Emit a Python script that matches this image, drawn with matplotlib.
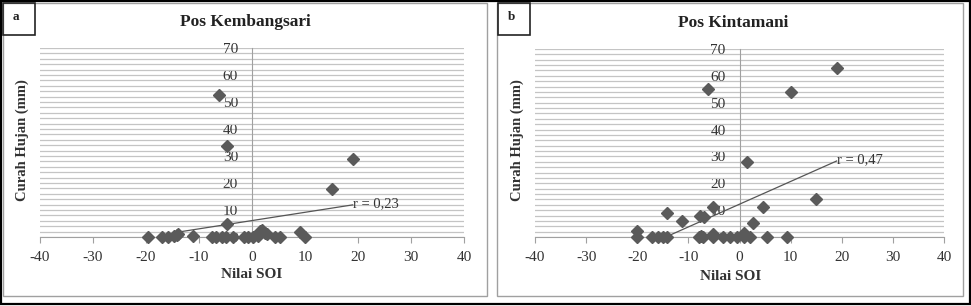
import numpy as np
import matplotlib
matplotlib.use("agg")
import matplotlib.pyplot as plt
from matplotlib.patches import Rectangle
from matplotlib.ticker import MultipleLocator

plt.rcParams["font.family"] = ["Liberation Serif", "DejaVu Serif"]
plt.rcParams["axes.unicode_minus"] = False

W, H = 971, 306

# Pos Kembangsari
soi_a = [-19.6, -17, -15.8, -14.7, -14.2, -13.9, -11.1, -7.6, -6.7, -6.2, -5.7, -4.9,
         -4.8, -4.8, -3.5, -1.6, -0.7, 0.2, 1.2, 1.5, 1.8, 2.5, 2.8, 4.3, 5.3, 9.1, 10, 15, 19]
rain_a = [0, 0, 0, 0.3, 0.8, 1, 0.5, 0, 0, 52.7, 0, 0,
          33.8, 4.7, 0, 0, 0, 0, 0.5, 2.2, 2.6, 1.4, 1, 0, 0, 2, 0, 17.9, 28.8]
trend_x_a = [-14, 19]
trend_y_a = [1.8, 11.9]

# Pos Kintamani
soi_b = [-20, -20, -17.2, -15.9, -15, -14.2, -14.2, -11.3, -7.9, -7.7, -7.5, -7.2, -6.9,
         -6.2, -5.1, -5.1, -5.1, -3.2, -1.9, -0.5, 0.8, 0.8, 1.5, 2.1, 2.6, 4.6, 5.4,
         9.3, 10, 15, 19]
rain_b = [2.4, 0, 0, 0, 0, 0, 9, 6.1, 0, 7.8, 0.5, 0, 7.6,
          55, 11, 1, 0, 0, 0, 0, 0, 1.4, 28, 0, 5.1, 11, 0,
          0, 54, 14, 63]
trend_x_b = [-13.6, 19]
trend_y_b = [0.7, 28.3]

x_ticks = [-40, -30, -20, -10, 0, 10, 20, 30, 40]
y_ticks = [0, 10, 20, 30, 40, 50, 60, 70]

panels = [
    dict(letter="a", title="Pos Kembangsari", x=soi_a, y=rain_a, tx=trend_x_a, ty=trend_y_a,
         r="r = 0,23", ax_px=(40, 464, 48, 237), frame=(3, 3, 487, 296), box=(3, 3, 35, 35),
         title_xy=(245, 22), ylab_x=22, xlab_xy=(252, 275)),
    dict(letter="b", title="Pos Kintamani", x=soi_b, y=rain_b, tx=trend_x_b, ty=trend_y_b,
         r="r = 0,47", ax_px=(535, 944, 49, 237), frame=(497, 3, 963, 296), box=(498, 3, 530, 35),
         title_xy=(733, 23), ylab_x=517, xlab_xy=(731, 277)),
]

fig = plt.figure(figsize=(W / 100, H / 100), dpi=100)


def px_rect(x0, y0, x1, y1, **kw):
    return Rectangle((x0 / W, 1 - y1 / H), (x1 - x0) / W, (y1 - y0) / H,
                     transform=fig.transFigure, fill=False, **kw)


# outer black frame
fig.patches.append(px_rect(0.5, 0.5, W - 1.5, H - 2.5, edgecolor="black", linewidth=1.6))

for p in panels:
    fig.patches.append(px_rect(*p["frame"], edgecolor="#a0a0a0", linewidth=1.0))
    fig.patches.append(px_rect(*p["box"], edgecolor="#222222", linewidth=1.2))
    bx0, by0, bx1, by1 = p["box"]
    fig.text((bx0 + 13) / W, 1 - (by0 + 14) / H, p["letter"], fontsize=9.5, fontweight="bold",
             ha="center", va="center", color="#222222")

    l, r, t, b = p["ax_px"]
    ax = fig.add_axes([l / W, 1 - b / H, (r - l) / W, (b - t) / H])
    ax.set_xlim(-40, 40)
    ax.set_ylim(0, 70)
    ax.set_xticks(x_ticks)
    ax.set_yticks(y_ticks)
    ax.set_yticklabels([str(v) for v in y_ticks])
    ax.yaxis.set_minor_locator(MultipleLocator(2))
    ax.grid(True, which="both", axis="y", color="#c4c4c4", linewidth=0.9)
    ax.set_axisbelow(True)

    for s in ["top", "right"]:
        ax.spines[s].set_visible(False)
    ax.spines["left"].set_position(("data", 0))
    ax.spines["left"].set_color("#a0a0a0")
    ax.spines["bottom"].set_color("#a0a0a0")
    ax.tick_params(axis="y", which="both", length=0, pad=10, labelsize=11, labelcolor="#333333")
    ax.tick_params(axis="x", length=4, color="#a0a0a0", pad=6, labelsize=11, labelcolor="#333333")

    ax.plot(p["tx"], p["ty"], color="#555555", linewidth=0.9, zorder=3)
    ax.plot(p["x"], p["y"], linestyle="none", marker="D", markersize=6,
            color="#5a5a5a", zorder=4, clip_on=False)
    ax.text(p["tx"][-1], p["ty"][-1] + 0.6, p["r"], fontsize=10.5, color="#333333",
            ha="left", va="center")

    fig.text(p["title_xy"][0] / W, 1 - p["title_xy"][1] / H, p["title"], fontsize=12.5,
             fontweight="bold", ha="center", va="center", color="#222222")
    fig.text(p["ylab_x"] / W, 1 - 140 / H, "Curah Hujan (mm)", fontsize=10.5, fontweight="bold",
             rotation=90, ha="center", va="center", color="#333333")
    fig.text(p["xlab_xy"][0] / W, 1 - p["xlab_xy"][1] / H, "Nilai SOI", fontsize=11,
             fontweight="bold", ha="center", va="center", color="#333333")

fig.savefig("out.png", dpi=100)
